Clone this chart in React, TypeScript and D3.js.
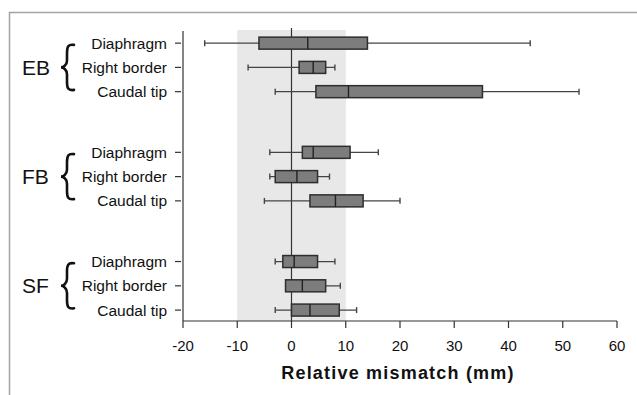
import React from 'react';
import * as d3 from 'd3';

const groups = ['EB', 'FB', 'SF'];
const sites = ['Diaphragm', 'Right border', 'Caudal tip'];

// one entry per group x site, in order EB(D,R,C), FB(D,R,C), SF(D,R,C)
const whiskerLow = [-16, -8, -3, -4, -4, -5, -3, -1, -3];
const q1 = [-6, 1.4, 4.5, 2, -3, 3.4, -1.6, -1.1, 0];
const median = [3, 4, 10.5, 4, 1, 8.1, 0.5, 2, 3.4];
const q3 = [14, 6.3, 35.2, 10.8, 4.8, 13.2, 4.8, 6.3, 8.8];
const whiskerHigh = [44, 8, 53, 16, 7, 20, 8, 9, 12];

const xTicks = [-20, -10, 0, 10, 20, 30, 40, 50, 60];
const bandLow = -10;
const bandHigh = 10;

const W = 637;
const H = 395;

export default function App() {
  const x = d3.scaleLinear().domain([-20, 60]).range([183, 617]);
  const y = d3.scaleLinear().domain([-0.5, 11.45]).range([31, 321]);
  const groupGap = 4.5;
  const yBottom = y(11.45);

  const rows = groups.flatMap((g, gi) =>
    sites.map((s, si) => {
      const k = gi * sites.length + si;
      return {
        group: g,
        site: s,
        pos: gi * groupGap + si,
        lo: whiskerLow[k],
        q1: q1[k],
        med: median[k],
        q3: q3[k],
        hi: whiskerHigh[k],
      };
    })
  );

  const boxH = 12;
  const capH = 6;
  const font = 'Liberation Sans, Arial, sans-serif';

  // curly brace path, centred on cy, tip pointing left at x0
  const brace = (x0: number, cy: number, h: number) => {
    const w = 13;
    const t = cy - h / 2;
    const b = cy + h / 2;
    const xr = x0 + w;
    const xm = x0 + 6;
    return `M${xr},${t + 1} C${xm + 1},${t} ${xm},${t + 3} ${xm},${t + 9} L${xm},${cy - 7} C${xm},${cy - 2} ${x0 + 2},${cy} ${x0},${cy} C${x0 + 2},${cy} ${xm},${cy + 2} ${xm},${cy + 7} L${xm},${b - 9} C${xm},${b - 3} ${xm + 1},${b} ${xr},${b - 1}`;
  };

  return (
    <svg width={W} height={H} style={{ position: 'absolute', left: 0, top: 0 }} fontFamily={font}>
      <rect x={0} y={0} width={W} height={H} fill="#fff" />
      {/* outer frame (open to the right/bottom) */}
      <path d={`M${W},12.5 L9.5,12.5 L9.5,${H}`} fill="none" stroke="#a3a3a3" strokeWidth={1.5} />

      {/* tolerance band */}
      <rect x={x(bandLow)} y={30} width={x(bandHigh) - x(bandLow)} height={yBottom - 30} fill="#e8e8e8" />

      {/* zero line */}
      <line x1={x(0)} x2={x(0)} y1={28} y2={yBottom} stroke="#333" strokeWidth={1.2} />

      {/* y axis */}
      <line x1={x(-20)} x2={x(-20)} y1={31} y2={yBottom} stroke="#333" strokeWidth={1.2} />
      {rows.map((r, i) => (
        <g key={'yt' + i}>
          <line x1={x(-20) - 8} x2={x(-20) - 2} y1={y(r.pos)} y2={y(r.pos)} stroke="#333" strokeWidth={1.2} />
          <text x={167} y={y(r.pos)} dy="0.35em" textAnchor="end" fontSize={15.5} fill="#111">
            {r.site}
          </text>
        </g>
      ))}

      {/* group labels with braces */}
      {groups.map((g, gi) => {
        const cy = y(gi * groupGap + 1);
        return (
          <g key={g}>
            <text x={22} y={cy} dy="0.36em" fontSize={21} fill="#111">
              {g}
            </text>
            <path d={brace(61, cy, 47)} fill="none" stroke="#111" strokeWidth={2.6} strokeLinecap="round" />
          </g>
        );
      })}

      {/* x axis */}
      <line x1={x(-20)} x2={x(60)} y1={yBottom} y2={yBottom} stroke="#333" strokeWidth={1.2} />
      {xTicks.map((t) => (
        <g key={'xt' + t}>
          <line x1={x(t)} x2={x(t)} y1={yBottom} y2={yBottom + 7} stroke="#333" strokeWidth={1.2} />
          <text x={x(t)} y={351} textAnchor="middle" fontSize={15} fill="#111">
            {t}
          </text>
        </g>
      ))}
      <text x={398} y={379} textAnchor="middle" fontSize={18} fontWeight="bold" letterSpacing={1.2} fill="#111">
        Relative mismatch (mm)
      </text>

      {/* boxes */}
      {rows.map((r, i) => {
        const cy = y(r.pos);
        return (
          <g key={'b' + i}>
            <line x1={x(r.lo)} x2={x(r.hi)} y1={cy} y2={cy} stroke="#444" strokeWidth={1.2} />
            <line x1={x(r.lo)} x2={x(r.lo)} y1={cy - capH / 2} y2={cy + capH / 2} stroke="#444" strokeWidth={1.4} />
            <line x1={x(r.hi)} x2={x(r.hi)} y1={cy - capH / 2} y2={cy + capH / 2} stroke="#444" strokeWidth={1.4} />
            <rect x={x(r.q1)} y={cy - boxH / 2} width={x(r.q3) - x(r.q1)} height={boxH} fill="#7d7d7d" stroke="#2e2e2e" strokeWidth={1.5} />
            <line x1={x(r.med)} x2={x(r.med)} y1={cy - boxH / 2} y2={cy + boxH / 2} stroke="#222" strokeWidth={1.4} />
          </g>
        );
      })}
    </svg>
  );
}
